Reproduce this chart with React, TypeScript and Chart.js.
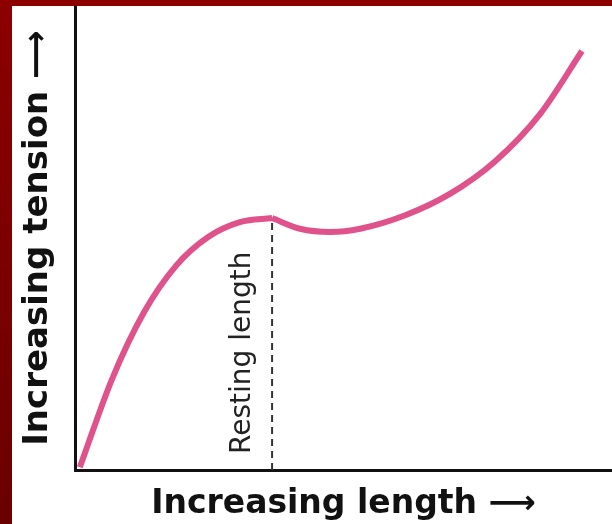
import React, { useEffect, useRef } from "react";
import { Chart, registerables } from "chart.js";

Chart.register(...registerables);

// Length–tension curve (arbitrary units 0–100 on both axes)
const riseLength = [0.9, 6.9, 12.9, 18.8, 24.8, 30.7, 36.7];
const riseTension = [0.6, 19.6, 34.1, 44.0, 50.2, 53.4, 54.3];
const stretchLength = [36.7, 41.9, 47.5, 53.1, 61.5, 69.8, 78.2, 86.6, 94.4];
const stretchTension = [54.3, 52.0, 51.3, 52.0, 54.9, 59.5, 66.5, 76.7, 90.3];
const restingLength = 36.7;
const restingTension = 54.3;

const xTitle = "Increasing length \u27F6";
const yTitle = "Increasing tension \u27F6";
const restLabel = "Resting length";

const PINK = "#e0528c";
const TITLE_FONT = "'DejaVu Sans', sans-serif";

const restLabelPlugin = {
  id: "restLabel",
  afterDatasetsDraw(chart: any) {
    const { ctx, scales } = chart;
    const x = scales.x.getPixelForValue(restingLength) - 29;
    const y = scales.y.getPixelForValue(0) - 16;
    ctx.save();
    ctx.translate(x, y);
    ctx.rotate(-Math.PI / 2);
    ctx.font = "28px 'DejaVu Sans', sans-serif";
    ctx.fillStyle = "#222";
    ctx.textAlign = "left";
    ctx.textBaseline = "middle";
    ctx.fillText(restLabel, 0, 0);
    ctx.restore();
  },
};

export default function App() {
  const ref = useRef<HTMLCanvasElement | null>(null);

  useEffect(() => {
    if (!ref.current) return;
    const curve = {
      borderColor: PINK,
      borderWidth: 6,
      pointRadius: 0,
      cubicInterpolationMode: "monotone",
      borderCapStyle: "butt",
    };
    const chart = new Chart(ref.current, {
      type: "line",
      data: {
        datasets: [
          { ...curve, data: riseLength.map((x, i) => ({ x, y: riseTension[i] })) },
          { ...curve, data: stretchLength.map((x, i) => ({ x, y: stretchTension[i] })) },
          {
            data: [
              { x: restingLength, y: 0 },
              { x: restingLength, y: restingTension },
            ],
            borderColor: "#333",
            borderWidth: 2,
            borderDash: [7, 5],
            pointRadius: 0,
          },
        ],
      },
      options: {
        responsive: false,
        animation: false,
        layout: { padding: 0 },
        plugins: {
          legend: { display: false },
          tooltip: { enabled: false },
          title: { display: false },
        },
        scales: {
          x: {
            type: "linear",
            min: 0,
            max: 100,
            grid: { display: false, drawTicks: false },
            border: { display: true, color: "#111", width: 3 },
            ticks: { display: false },
            title: {
              display: true,
              text: xTitle,
              color: "#111",
              font: { family: TITLE_FONT, size: 33, weight: "bold" },
              padding: { top: 0, bottom: 0 },
            },
            afterFit(scale: any) {
              scale.height = 54;
            },
          },
          y: {
            type: "linear",
            min: 0,
            max: 100,
            grid: { display: false, drawTicks: false },
            border: { display: true, color: "#111", width: 3 },
            ticks: { display: false },
            title: {
              display: true,
              text: yTitle,
              color: "#111",
              font: { family: TITLE_FONT, size: 34, weight: "bold" },
              padding: { top: 6, bottom: 0 },
            },
            afterFit(scale: any) {
              scale.width = 63;
            },
          },
        },
      },
      plugins: [restLabelPlugin],
    } as any);
    return () => chart.destroy();
  }, []);

  return (
    <div
      style={{
        position: "fixed",
        left: 0,
        top: 0,
        width: 612,
        height: 524,
        background: "linear-gradient(#8c0000, #6a0000)",
        overflow: "hidden",
      }}
    >
      <canvas
        ref={ref}
        width={600}
        height={518}
        style={{ position: "absolute", left: 12, top: 6, background: "#fff" }}
      />
    </div>
  );
}
